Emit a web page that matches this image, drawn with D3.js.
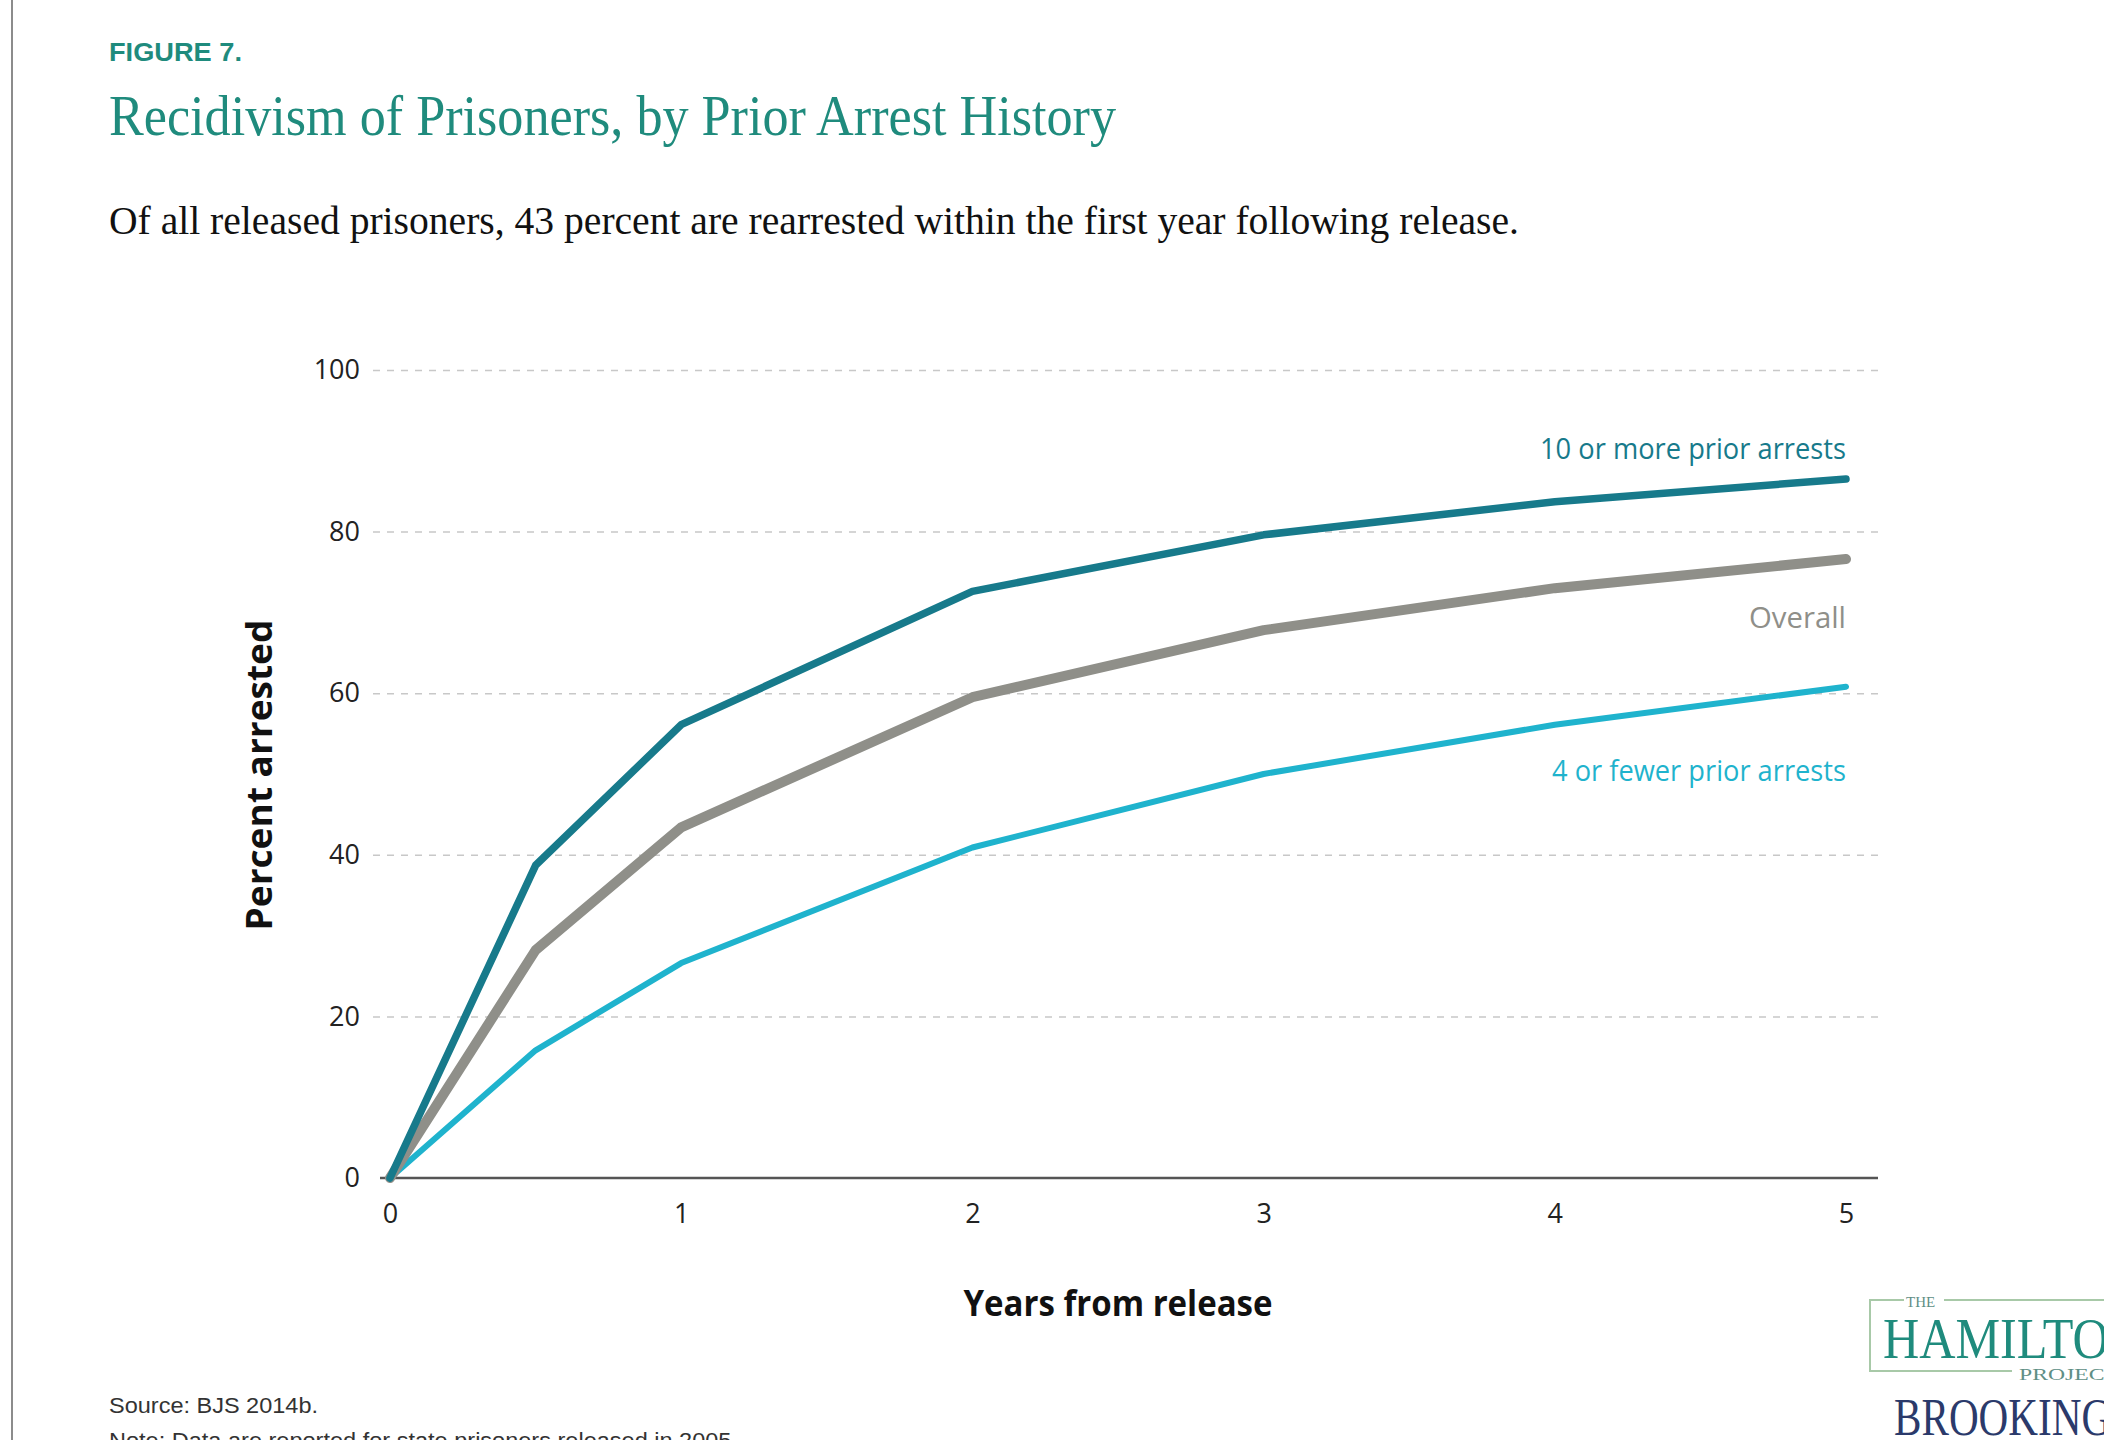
<!DOCTYPE html>
<html>
<head>
<meta charset="utf-8">
<script src="https://cdn.jsdelivr.net/npm/d3@7"></script>
<style>
  body { margin: 0; background: #fff; }
  svg { display: block; }
</style>
</head>
<body>
<script>
/*global d3*/

// chart data
var years = [0, 0.5, 1, 2, 3, 4, 5];
var tenOrMore = [0, 38.7, 56.1, 72.6, 79.6, 83.7, 86.5];
var overall = [0, 28.2, 43.4, 59.5, 67.8, 73.0, 76.6];
var fourOrFewer = [0, 15.8, 26.6, 40.9, 50.0, 56.1, 60.8];
var seriesNames = ["10 or more prior arrests", "Overall", "4 or fewer prior arrests"];
var xTicks = [0, 1, 2, 3, 4, 5];
var yTicks = [0, 20, 40, 60, 80, 100];

var w = 2104;
var h = 1440;

var svg = d3.select("body")
            .append("svg")
            .attr("width", w)
            .attr("height", h);

// left page border
svg.append("line")
   .attr("x1", 12).attr("x2", 12)
   .attr("y1", 0).attr("y2", h)
   .attr("stroke", "#666")
   .attr("stroke-width", 1.5);

// headings
svg.append("text")
   .attr("x", 109).attr("y", 61)
   .attr("font-family", "Liberation Sans, Arial, sans-serif")
   .attr("font-weight", "bold")
   .attr("font-size", 26)
   .attr("textLength", 133)
   .attr("lengthAdjust", "spacingAndGlyphs")
   .attr("fill", "#1f8b7d")
   .text("FIGURE 7.");

svg.append("text")
   .attr("x", 109).attr("y", 135)
   .attr("font-family", "Liberation Serif, serif")
   .attr("font-size", 58)
   .attr("textLength", 1007)
   .attr("lengthAdjust", "spacingAndGlyphs")
   .attr("fill", "#1f8b7d")
   .text("Recidivism of Prisoners, by Prior Arrest History");

svg.append("text")
   .attr("x", 109).attr("y", 234)
   .attr("font-family", "Liberation Serif, serif")
   .attr("font-size", 41)
   .attr("textLength", 1410)
   .attr("lengthAdjust", "spacingAndGlyphs")
   .attr("fill", "#111")
   .text("Of all released prisoners, 43 percent are rearrested within the first year following release.");

// scales
var x = d3.scaleLinear()
    .domain([0, 5])
    .range([390, 1846]);

var y = d3.scaleLinear()
    .domain([0, 100])
    .range([1178, 370]);

var gridRight = 1878;
var axisLeft = 380;

// gridlines (dashed), from the y axis generator
var grid = svg.append("g")
    .attr("transform", "translate(" + gridRight + ",0)")
    .call(d3.axisLeft(y)
        .tickValues(yTicks.filter(function(d) { return d > 0; }))
        .tickSize(gridRight - 372)
        .tickFormat(""));
grid.select(".domain").remove();
grid.selectAll("line")
    .attr("stroke", "#c8c8c8")
    .attr("stroke-width", 1.5)
    .attr("stroke-dasharray", "7,7");

// y tick labels
var yAxis = svg.append("g")
    .attr("transform", "translate(372,0)")
    .call(d3.axisLeft(y).tickValues(yTicks).tickSize(0).tickPadding(12));
yAxis.select(".domain").remove();
yAxis.selectAll("text")
    .attr("font-family", "Open Sans, sans-serif")
    .attr("font-size", 27)
    .attr("fill", "#222");

// x axis
var xAxis = svg.append("g")
    .attr("transform", "translate(0," + y(0) + ")")
    .call(d3.axisBottom(x)
        .tickValues(xTicks)
        .tickFormat(d3.format("d"))
        .tickSize(0)
        .tickPadding(26));
xAxis.select(".domain").remove();
xAxis.selectAll("text")
    .attr("font-family", "Open Sans, sans-serif")
    .attr("font-size", 27)
    .attr("fill", "#222");

// baseline
svg.append("line")
   .attr("x1", axisLeft).attr("x2", gridRight)
   .attr("y1", y(0)).attr("y2", y(0))
   .attr("stroke", "#555")
   .attr("stroke-width", 2.5);

// axis titles
svg.append("text")
   .attr("transform", "translate(272," + ((y(0) + y(100)) / 2 + 1) + ") rotate(-90)")
   .attr("text-anchor", "middle")
   .attr("font-family", "Open Sans, sans-serif")
   .attr("font-weight", "bold")
   .attr("font-size", 35)
   .attr("textLength", 311)
   .attr("lengthAdjust", "spacingAndGlyphs")
   .attr("fill", "#111")
   .text("Percent arrested");

svg.append("text")
   .attr("x", 1118).attr("y", 1316)
   .attr("text-anchor", "middle")
   .attr("font-family", "Open Sans, sans-serif")
   .attr("font-weight", "bold")
   .attr("font-size", 36)
   .attr("textLength", 309)
   .attr("lengthAdjust", "spacingAndGlyphs")
   .attr("fill", "#111")
   .text("Years from release");

// series lines
var series = [
    { name: seriesNames[0], values: tenOrMore,   color: "#177a8b", width: 7.5, dy: -20, len: 306 },
    { name: seriesNames[1], values: overall,     color: "#8f8f89", width: 10,  dy: 69,  len: 97 },
    { name: seriesNames[2], values: fourOrFewer, color: "#1fb3cd", width: 6,   dy: 94,  len: 294 }
];

var line = d3.line()
    .x(function(d, i) { return x(years[i]); })
    .y(function(d) { return y(d); });

svg.selectAll("path.series")
   .data(series.slice().reverse())
   .enter()
   .append("path")
   .attr("class", "series")
   .attr("d", function(d) { return line(d.values); })
   .attr("fill", "none")
   .attr("stroke", function(d) { return d.color; })
   .attr("stroke-width", function(d) { return d.width; })
   .attr("stroke-linejoin", "round")
   .attr("stroke-linecap", "round");

// series labels at the line ends
svg.selectAll("text.label")
   .data(series)
   .enter()
   .append("text")
   .attr("class", "label")
   .attr("x", x(5))
   .attr("y", function(d) { return y(d.values[d.values.length - 1]) + d.dy; })
   .attr("text-anchor", "end")
   .attr("font-family", "Open Sans, sans-serif")
   .attr("font-size", 29)
   .attr("textLength", function(d) { return d.len; })
   .attr("lengthAdjust", "spacingAndGlyphs")
   .attr("fill", function(d) { return d.color; })
   .text(function(d) { return d.name; });

// source and note
svg.append("text")
   .attr("x", 109).attr("y", 1413)
   .attr("font-family", "Liberation Sans, Arial, sans-serif")
   .attr("font-size", 22)
   .attr("textLength", 209)
   .attr("lengthAdjust", "spacingAndGlyphs")
   .attr("fill", "#333")
   .text("Source: BJS 2014b.");

svg.append("text")
   .attr("x", 109).attr("y", 1448)
   .attr("font-family", "Liberation Sans, Arial, sans-serif")
   .attr("font-size", 22)
   .attr("textLength", 629)
   .attr("lengthAdjust", "spacingAndGlyphs")
   .attr("fill", "#333")
   .text("Note: Data are reported for state prisoners released in 2005.");

// Hamilton Project / Brookings logo, cut off by the page edge
var logo = svg.append("g");
logo.append("path")
    .attr("d", "M1904,1300 L1870,1300 L1870,1371 L2012,1371 M1944,1300 L2104,1300")
    .attr("fill", "none")
    .attr("stroke", "#a8c9a8")
    .attr("stroke-width", 2);
logo.append("text")
    .attr("x", 1906).attr("y", 1307)
    .attr("font-family", "Liberation Serif, serif")
    .attr("font-size", 15)
    .attr("fill", "#5f8f86")
    .text("THE");
logo.append("text")
    .attr("x", 1883).attr("y", 1358)
    .attr("font-family", "Liberation Serif, serif")
    .attr("font-size", 58)
    .attr("textLength", 262)
    .attr("lengthAdjust", "spacingAndGlyphs")
    .attr("fill", "#1f8b7d")
    .text("HAMILTON");
logo.append("text")
    .attr("x", 2019).attr("y", 1380)
    .attr("font-family", "Liberation Serif, serif")
    .attr("font-size", 17)
    .attr("textLength", 100)
    .attr("lengthAdjust", "spacingAndGlyphs")
    .attr("fill", "#5f8f86")
    .text("PROJECT");
logo.append("text")
    .attr("x", 1894).attr("y", 1435)
    .attr("font-family", "Liberation Serif, serif")
    .attr("font-size", 52)
    .attr("textLength", 240)
    .attr("lengthAdjust", "spacingAndGlyphs")
    .attr("fill", "#2b3a6b")
    .text("BROOKINGS");
</script>
</body>
</html>
